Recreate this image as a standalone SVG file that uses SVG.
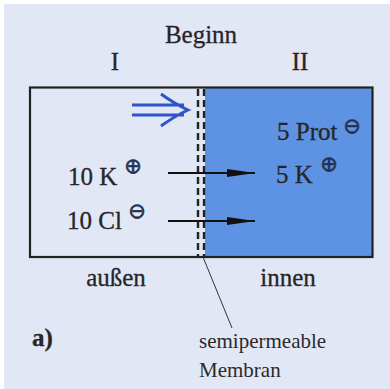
<svg xmlns="http://www.w3.org/2000/svg" width="390" height="389" viewBox="0 0 390 389">
<style>
.t{font-family:"Liberation Serif","Times New Roman",serif;font-size:25px;fill:#262626;stroke:#262626;stroke-width:0.3}
.s{font-family:"Liberation Serif","Times New Roman",serif;font-size:21px;fill:#2a2a2a}
.sym{font-family:"DejaVu Sans",sans-serif;font-size:21px;fill:#26324d;stroke:#26324d;stroke-width:0.6;text-anchor:middle}
.ln{stroke:#222;fill:none}
</style>
<defs>
<marker id="ah" markerWidth="28" markerHeight="10" refX="28" refY="5" orient="auto" markerUnits="userSpaceOnUse">
<path d="M0,1 L28,5 L0,9 Z" fill="#111"/>
</marker>
</defs>
<rect x="0" y="0" width="390" height="389" fill="#ffffff"/>
<rect x="4" y="4" width="386" height="385" fill="#e2e7f6"/>
<g id="box">
<rect x="205" y="88" width="167" height="168" fill="#5e93e4"/>
<rect x="30" y="87.5" width="342.5" height="169.5" class="ln" stroke-width="2.2"/>
</g>
<g id="membrane">
<line x1="198" y1="89" x2="198" y2="256" stroke="#222" stroke-width="2.4" stroke-dasharray="7 4"/>
<line x1="204" y1="89" x2="204" y2="256" stroke="#222" stroke-width="2.4" stroke-dasharray="7 4"/>
</g>
<g id="labels">
<text class="t" x="201" y="43" text-anchor="middle">Beginn</text>
<text class="t" x="115" y="70" text-anchor="middle">I</text>
<text class="t" x="300" y="70" text-anchor="middle">II</text>
<text class="t" x="116" y="286" text-anchor="middle">außen</text>
<text class="t" x="288" y="286" text-anchor="middle">innen</text>
<text class="t" x="32" y="346" font-weight="bold">a)</text>
<text class="s" x="199" y="348">semipermeable</text>
<text class="s" x="199" y="377">Membran</text>
</g>
<g id="ions">
<text class="t" x="277" y="140">5 Prot</text>
<text class="sym" x="352" y="133">⊖</text>
<text class="t" x="68" y="185">10 K</text>
<text class="sym" x="133" y="173">⊕</text>
<text class="t" x="276" y="183">5 K</text>
<text class="sym" x="329" y="171">⊕</text>
<text class="t" x="67" y="229">10 Cl</text>
<text class="sym" x="137" y="218">⊖</text>
</g>
<g id="connectors">
<path d="M132,105 H184 M132,115 H184 M161,94 Q175,104 188,110 Q175,116 161,126" stroke="#2c55c9" stroke-width="3" fill="none"/>
<line x1="168" y1="173" x2="255" y2="173" stroke="#111" stroke-width="2.2" marker-end="url(#ah)"/>
<line x1="168" y1="221" x2="255" y2="221" stroke="#111" stroke-width="2.2" marker-end="url(#ah)"/>
<line x1="203" y1="257" x2="232" y2="328" stroke="#333" stroke-width="1"/>
</g>
</svg>
